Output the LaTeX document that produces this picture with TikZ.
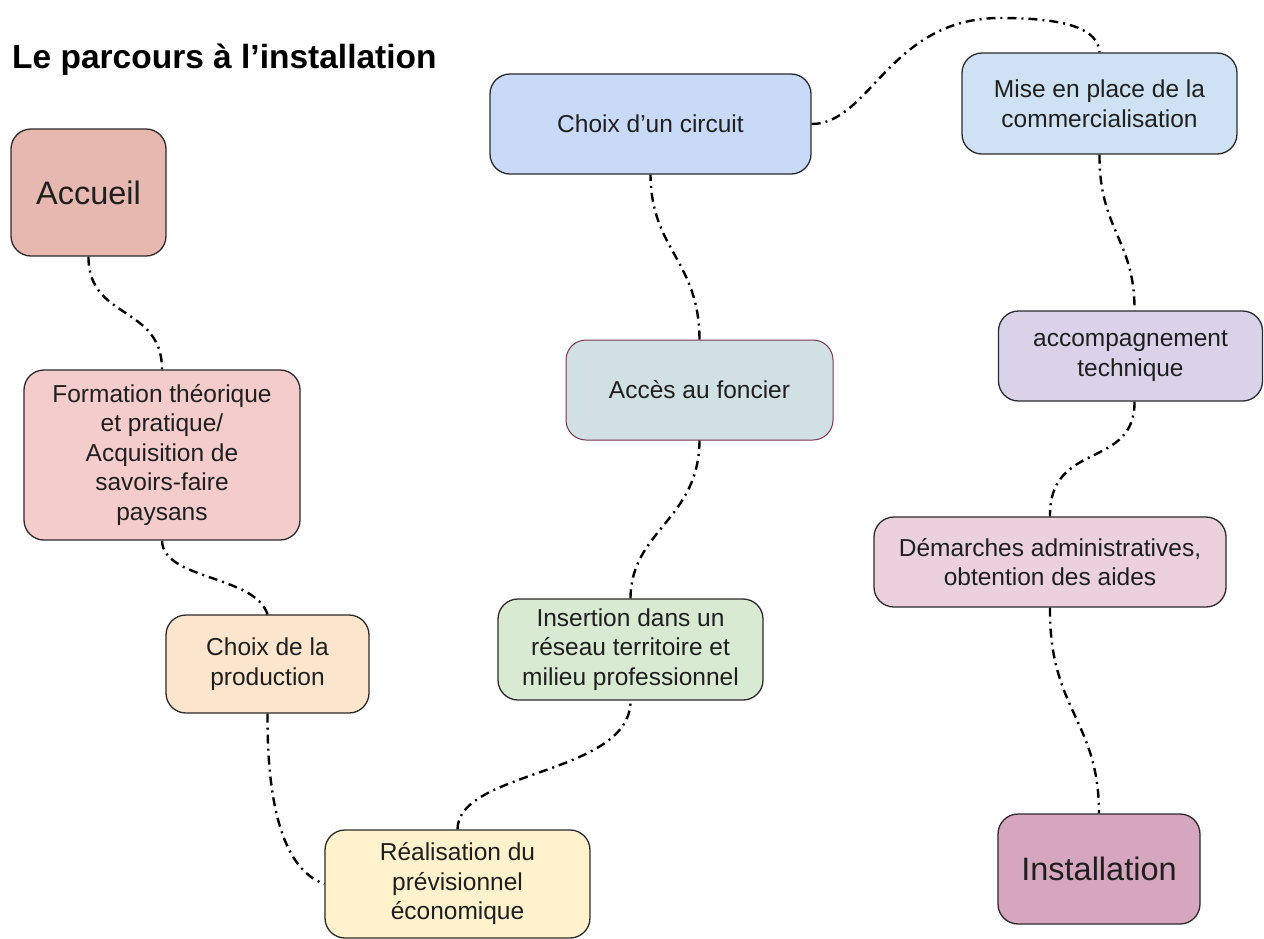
\documentclass[tikz,border=0pt]{standalone}
\usepackage{fontspec}
\setmainfont{Liberation Sans}
\usetikzlibrary{calc}
\definecolor{txt}{HTML}{1F1F1F}
\definecolor{cAcc}{HTML}{E6B8AF}
\definecolor{cForm}{HTML}{F4CCCC}
\definecolor{cProd}{HTML}{FCE5CD}
\definecolor{cReal}{HTML}{FFF2CC}
\definecolor{cIns}{HTML}{D9EAD3}
\definecolor{cFon}{HTML}{D0E0E3}
\definecolor{cCirc}{HTML}{C9DAF8}
\definecolor{cMise}{HTML}{CFE2F3}
\definecolor{cTech}{HTML}{D9D2E9}
\definecolor{cDem}{HTML}{EAD1DC}
\definecolor{cInst}{HTML}{D5A6BD}
\definecolor{edge}{HTML}{2B2B2B}
\definecolor{edgeR}{HTML}{7A3550}
\tikzset{
  stepbox/.style={draw=edge, line width=1.3pt, rounded corners=20pt, align=center,
    text=txt, font=\fontsize{24.5}{29.5}\selectfont, inner sep=0pt},
  bigbox/.style={stepbox, font=\fontsize{32.5}{36}\selectfont},
  link/.style={line width=2.4pt, black, dash pattern=on 9pt off 5pt on 2pt off 5pt}
}
\begin{document}
\begin{tikzpicture}[x=1pt,y=-1pt]
\useasboundingbox[fill=white] (0,0) rectangle (1264,938);
\node[anchor=base west, font=\bfseries\fontsize{33.5}{38}\selectfont, text=black, inner sep=0pt] (title) at (12,68) {Le parcours à l’installation};

\node[bigbox, fill=cAcc, minimum width=155pt, minimum height=127pt] (acc) at (88.5,192.5) {Accueil};
\node[stepbox, fill=cForm, minimum width=276pt, minimum height=170pt] (form) at (162,455) {Formation théorique\\et pratique/\\Acquisition de\\savoirs-faire\\paysans};
\node[stepbox, fill=cProd, minimum width=203pt, minimum height=98pt] (prod) at (267.5,664) {Choix de la\\production};
\node[stepbox, fill=cReal, minimum width=265pt, minimum height=108pt] (real) at (457.5,884) {Réalisation du\\prévisionnel\\économique};
\node[stepbox, fill=cIns, minimum width=265pt, minimum height=101pt] (ins) at (630.5,649.5) {Insertion dans un\\réseau territoire et\\milieu professionnel};
\node[stepbox, draw=edgeR, line width=1pt, fill=cFon, minimum width=267pt, minimum height=100pt] (fon) at (699.5,390) {Accès au foncier};
\node[stepbox, fill=cCirc, minimum width=321pt, minimum height=100pt] (circ) at (650.5,124) {Choix d’un circuit};
\node[stepbox, fill=cMise, minimum width=275pt, minimum height=101pt] (mise) at (1099.5,103.5) {Mise en place de la\\commercialisation};
\node[stepbox, fill=cTech, minimum width=264pt, minimum height=90pt] (tech) at (1130.5,356) {accompagnement\\technique};
\node[stepbox, fill=cDem, minimum width=352pt, minimum height=90pt] (dem) at (1050,562) {Démarches administratives,\\obtention des aides};
\node[bigbox, fill=cInst, minimum width=202pt, minimum height=110pt] (inst) at (1099,869) {Installation};

\coordinate (peak) at (1000,18);

\draw[link] (acc.south) .. controls (88,320) and (162,305) .. (form.north);
\draw[link] (form.south) .. controls (163,580) and (255,575) .. (prod.north);
\draw[link] (prod.south) .. controls (267,810) and (285,870) .. (real.west);
\draw[link] (real.north) .. controls (458,770) and (631,775) .. (ins.south);
\draw[link] (ins.north) .. controls (631,530) and (699,520) .. (fon.south);
\draw[link] (fon.north) .. controls (699,260) and (651,250) .. (circ.south);
\draw[link] (circ.east) .. controls (870,124) and (890,18) .. (peak) .. controls (1070,18) and (1098,30) .. (mise.north);
\draw[link] (mise.south) .. controls (1099,230) and (1135,240) .. ($(tech.north)+(4,0)$);
\draw[link] ($(tech.south)+(4,0)$) .. controls (1135,470) and (1049,440) .. (dem.north);
\draw[link] (dem.south) .. controls (1049,710) and (1099,720) .. (inst.north);
\end{tikzpicture}
\end{document}
